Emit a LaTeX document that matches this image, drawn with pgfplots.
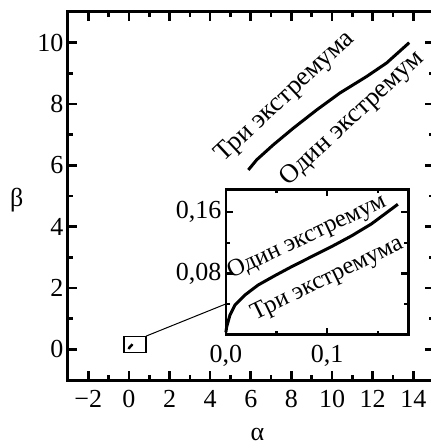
\documentclass[border=0pt]{standalone}
\usepackage{fontspec}
\setmainfont{Liberation Serif}
\usepackage{pgfplots}
\pgfplotsset{compat=1.18}
\usetikzlibrary{calc}

\pgfplotstableread{
x y
0.0000 0.0030
0.0008 0.0102
0.0040 0.0255
0.0090 0.0386
0.0188 0.0517
0.0319 0.0648
0.0483 0.0770
0.0648 0.0887
0.0844 0.1018
0.1041 0.1149
0.1238 0.1289
0.1435 0.1446
0.1697 0.1704
}\insetdata

\pgfplotstableread{
x y
5.88 5.85
6.29 6.18
7.11 6.67
8.09 7.21
9.25 7.81
10.39 8.36
11.71 8.90
12.69 9.34
13.80 10.00
}\maindata

\newcommand{\bigf}{\fontsize{26}{30}\selectfont}
\newcommand{\annf}{\fontsize{26.5}{30}\selectfont}
\newcommand{\insf}{\fontsize{24.5}{28}\selectfont}

\begin{document}
\begin{tikzpicture}
\begin{axis}[name=main,
  scale only axis, width=365.6pt, height=368pt,
  xmin=-3, xmax=15, ymin=-1, ymax=11,
  xtick={-2,0,...,14}, xticklabels={−2,0,2,4,6,8,10,12,14},
  ytick={0,2,...,10}, yticklabels={0,2,4,6,8,10},
  minor tick num=1,
  tick align=inside,
  major tick length=9pt, minor tick length=5pt,
  tick style={black, line width=2.6pt},
  axis line style={line width=3pt},
  tick label style={font=\bigf},
  xticklabel style={yshift=-7pt},
  yticklabel style={xshift=-1pt},
  xlabel={α}, ylabel={β},
  label style={font=\bigf, inner sep=0pt},
  xlabel style={at={(axis description cs:0.518,-0.148)}, anchor=center},
  ylabel style={at={(axis description cs:-0.14,0.49)}, anchor=center, rotate=-90},
  clip=false,
]
\addplot[black, line width=3pt] table[x=x,y=y] {\maindata};
\addplot[black, line width=2.5pt] table[x=x,y=y] {\insetdata};
\draw[line width=1.2pt] (axis cs:-0.24,-0.11) rectangle (axis cs:0.84,0.43);
\coordinate (A) at (axis cs:0.84,0.43);
\node[font=\annf, rotate=43, inner sep=0pt] at (axis cs:7.70,8.22) {Три экстремума};
\node[font=\annf, rotate=43, inner sep=0pt] at (axis cs:11.0,7.52) {Один экстремум};
\end{axis}

\begin{axis}[name=inset,
  at={($(main.south west)+(157.9pt,45.5pt)$)}, anchor=south west,
  scale only axis, width=182.4pt, height=145.2pt,
  xmin=0, xmax=0.18, ymin=0, ymax=0.19,
  xtick={0,0.1}, xticklabels={{0,0},{0,1}},
  ytick={0.08,0.16}, yticklabels={{0,08},{0,16}},
  minor xtick={0.05,0.15}, minor ytick={0.04,0.12},
  tick align=inside,
  major tick length=7pt, minor tick length=4pt,
  tick style={black, line width=2.4pt},
  axis line style={line width=2.6pt},
  tick label style={font=\bigf},
  xticklabel style={yshift=-7pt},
  yticklabel style={xshift=-1pt},
  axis background/.style={fill=white},
  clip=false,
]
\addplot[black, line width=3pt] table[x=x,y=y] {\insetdata};
\coordinate (B) at (axis cs:0,0.04);
\node[font=\insf, rotate=25, inner sep=0pt] at (axis cs:0.0800,0.1270) {Один экстремум};
\node[font=\insf, rotate=26, inner sep=0pt] at (axis cs:0.1000,0.0725) {Три экстремума};
\end{axis}
\draw[line width=1pt] (A) -- (B);
\pgfresetboundingbox
\path[use as bounding box] ($(main.south west)+(-68pt,-68pt)$) rectangle ($(main.north east)+(-2.6pt,12pt)$);
\end{tikzpicture}
\end{document}
